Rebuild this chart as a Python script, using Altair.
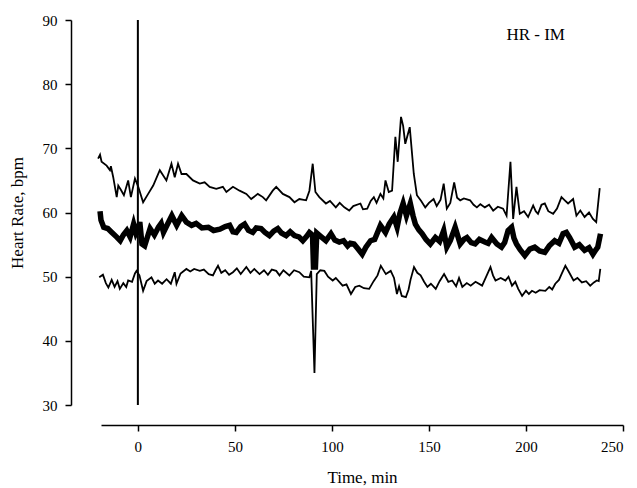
import altair as alt
import pandas as pd

# Upper curve (mean + SD)
up_t = [-20.5, -19.5, -18.7, -16.1, -14.4, -13.9, -12.7, -10.9, -10.1, -8.7, -7.2, -5.0, -3.6, -1.5, 0.2,
        2.7, 5.3, 7.9, 11.3, 14.7, 17.3, 19.0, 20.7, 22.5, 25.0, 28.4, 31.9, 34.4, 37.0, 40.4, 43.8,
        45.6, 49.0, 52.4, 55.9, 58.4, 61.8, 64.4, 66.1, 69.5, 71.3, 74.7, 78.1, 80.7, 83.2, 86.7, 88.4,
        90.1, 91.5, 93.5, 96.9, 99.0, 102.0, 104.0, 106.4, 108.9, 111.0, 114.7, 116.0, 118.2, 120.0,
        121.6, 123.0, 125.0, 126.5, 127.6, 129.3, 131.0, 132.7, 133.9, 135.6, 136.7, 137.8, 140.1,
        142.2, 143.8, 146.0, 148.1, 150.0, 152.4, 154.0, 156.0, 157.6, 159.2, 161.0, 163.0, 164.5,
        166.1, 168.0, 171.2, 173.0, 174.7, 176.5, 178.8, 181.0, 183.1, 185.5, 188.2, 190.0, 192.0,
        193.4, 195.1, 196.8, 199.0, 201.1, 203.7, 205.0, 206.2, 208.0, 209.7, 211.5, 214.0, 216.0,
        218.3, 220.0, 221.7, 224.3, 226.0, 228.0, 230.2, 232.5, 234.5, 236.2, 238.0]
up_v = [68.4, 69.0, 67.9, 67.3, 66.6, 67.2, 65.5, 62.4, 64.2, 63.5, 62.7, 65.0, 62.4, 65.3, 64.0,
        61.6, 62.9, 64.2, 66.6, 65.0, 67.6, 65.5, 67.6, 66.0, 66.0, 65.0, 64.5, 64.7, 64.0, 63.7, 64.0,
        63.2, 64.0, 63.4, 62.9, 62.1, 62.9, 62.4, 61.9, 63.4, 64.0, 62.9, 62.4, 61.6, 62.1, 61.9, 63.4,
        67.6, 63.2, 62.4, 61.4, 61.8, 60.8, 61.5, 60.8, 60.3, 61.0, 61.4, 60.5, 60.6, 61.8,
        62.4, 61.5, 62.9, 62.2, 65.0, 63.2, 63.4, 71.8, 67.9, 74.9, 73.5, 70.7, 73.3,
        66.0, 62.7, 61.8, 60.8, 61.5, 62.1, 61.0, 62.0, 64.5, 60.6, 61.5, 64.7, 62.3,
        61.9, 62.2, 61.9, 61.2, 60.8, 61.3, 60.8, 61.2, 60.3, 60.9, 60.6, 59.5, 67.9,
        59.0, 64.0, 59.8, 60.2, 59.3, 61.1, 60.2, 59.8, 61.2, 61.4, 60.2, 59.8, 60.6,
        62.4, 61.9, 61.4, 62.1, 59.5, 60.3, 59.3, 60.0, 59.0, 58.5, 63.8]

# Middle curve (mean)
mid_t = [-19.5, -19.0, -17.6, -15.5, -13.4, -11.0, -9.1, -7.5, -5.7, -4.0, -2.2, -1.0, 0.3, 1.0, 2.1,
         3.5, 6.3, 8.5, 10.6, 12.0, 13.2, 15.0, 17.5, 20.0, 22.6, 25.0, 27.7, 30.0, 33.0, 36.3, 39.0,
         42.3, 45.0, 47.3, 49.0, 50.7, 53.0, 55.0, 57.0, 59.2, 61.0, 63.5, 65.5, 67.8, 70.0, 72.1,
         74.0, 76.4, 78.5, 80.7, 83.0, 85.0, 87.0, 88.4, 90.0, 90.5, 91.5, 92.2, 94.5, 96.9, 99.5,
         101.5, 103.8, 106.0, 108.1, 109.5, 111.4, 113.5, 115.6, 117.5, 119.9, 122.0, 125.0, 127.6,
         129.5, 131.9, 133.6, 135.0, 136.7, 138.4, 140.4, 141.8, 143.0, 144.8, 146.5, 148.5, 150.7,
         153.3, 155.5, 157.6, 159.2, 161.0, 163.5, 165.0, 166.1, 168.0, 169.6, 171.8, 173.8, 176.0,
         178.8, 180.5, 182.3, 185.0, 187.4, 189.0, 190.8, 192.6, 193.8, 195.1, 197.0, 199.4, 202.0,
         204.5, 207.0, 209.7, 212.0, 214.8, 217.0, 219.1, 220.8, 222.5, 225.1, 227.5, 230.2, 232.5,
         234.5, 236.0, 237.0, 238.4]
mid_v = [60.2, 58.8, 57.7, 57.5, 56.9, 56.2, 55.6, 56.5, 57.2, 56.2, 58.2, 56.8, 57.6, 58.5, 55.1,
         54.8, 57.5, 56.5, 57.7, 58.3, 56.9, 58.0, 59.5, 58.0, 59.5, 58.5, 58.0, 58.3, 57.6, 57.7, 57.2,
         57.4, 57.8, 58.0, 57.0, 56.9, 57.8, 58.2, 57.2, 56.9, 57.6, 57.5, 56.9, 56.4, 57.1, 57.5,
         56.8, 56.4, 57.0, 56.4, 56.2, 55.6, 56.3, 56.9, 56.5, 51.5, 51.5, 56.8, 56.2, 55.6, 56.7,
         55.7, 55.4, 55.6, 54.8, 55.2, 55.1, 54.3, 53.5, 54.6, 55.6, 55.8, 58.0, 56.9,
         58.2, 59.3, 57.7, 59.8, 61.4, 59.5, 61.4, 59.5, 58.2, 57.3, 56.7, 55.8, 55.1,
         56.1, 55.5, 57.2, 54.6, 55.6, 57.7, 56.2, 55.1, 55.8, 56.1, 55.3, 55.1, 55.8,
         55.4, 55.2, 56.1, 55.1, 54.6, 55.3, 57.2, 57.7, 56.0, 55.1, 54.2, 53.3, 54.3,
         54.6, 54.0, 53.8, 54.8, 55.6, 55.2, 56.7, 56.9, 56.1, 54.6, 55.0, 54.1, 54.5,
         53.5, 54.2, 54.6, 56.7]

# Lower curve (mean - SD)
low_t = [-19.9, -18.0, -16.5, -15.2, -13.5, -12.0, -10.5, -9.3, -7.5, -6.0, -5.0, -3.0, -1.5, -0.7, 0.8,
         2.7, 4.5, 7.0, 8.7, 10.4, 12.5, 14.8, 17.0, 19.0, 19.9, 22.0, 25.0, 27.0, 29.0, 31.9, 34.0,
         36.5, 38.7, 40.0, 41.3, 43.0, 45.0, 47.0, 49.0, 51.0, 53.0, 55.9, 58.0, 60.0, 62.7, 65.0,
         67.0, 69.0, 71.3, 73.0, 75.0, 78.1, 80.5, 83.2, 85.5, 88.4, 89.3, 91.0, 92.2, 94.0, 96.1,
         98.0, 100.4, 102.0, 105.5, 107.5, 109.8, 112.0, 114.1, 116.5, 119.2, 121.5, 123.5, 125.2,
         127.8, 130.3, 132.0, 133.5, 134.6, 136.0, 138.1, 139.5, 140.5, 142.3, 144.0, 145.7, 147.5,
         149.2, 151.0, 153.5, 155.5, 157.8, 160.0, 162.0, 164.0, 165.5, 167.2, 169.5, 171.5, 174.0,
         177.4, 179.5, 181.7, 183.0, 184.3, 187.0, 189.4, 191.0, 192.8, 194.5, 196.0, 198.0, 200.0,
         201.5, 203.1, 205.0, 207.0, 210.0, 212.0, 213.5, 215.1, 217.0, 218.5, 220.3, 222.0, 224.5,
         226.5, 228.8, 231.0, 233.1, 235.0, 236.5, 237.5, 238.3]
low_v = [49.9, 50.3, 49.0, 48.3, 49.5, 48.4, 49.3, 48.1, 49.0, 48.4, 49.4, 49.2, 50.5, 50.9, 50.2,
         47.8, 49.3, 49.9, 48.9, 49.4, 48.9, 49.6, 48.9, 50.7, 48.9, 50.5, 51.2, 50.8, 51.2, 50.9, 51.1,
         50.4, 50.2, 51.0, 51.7, 50.6, 51.0, 50.3, 50.7, 51.3, 50.4, 51.5, 50.6, 51.2, 50.4, 51.0,
         50.3, 51.1, 50.9, 50.2, 51.0, 50.2, 51.0, 50.7, 50.0, 49.9, 50.9, 35.0, 50.4, 51.0, 50.9,
         50.0, 49.4, 49.8, 48.6, 48.8, 47.3, 48.4, 48.6, 48.2, 48.1, 49.3, 50.2, 51.7,
         50.4, 50.9, 49.8, 47.3, 48.5, 47.0, 46.8, 48.0, 49.5, 51.5, 50.6, 50.2, 49.2,
         48.4, 48.9, 48.1, 49.3, 50.4, 49.2, 49.4, 48.5, 49.8, 48.4, 49.0, 48.6, 49.2,
         48.6, 50.0, 51.5, 50.2, 49.4, 49.8, 49.4, 50.0, 48.6, 49.2, 48.1, 47.0, 47.8,
         47.3, 47.8, 47.5, 47.9, 47.8, 48.4, 48.0, 48.9, 49.5, 50.5, 51.7, 50.8, 49.4,
         49.8, 49.1, 49.3, 48.6, 49.1, 49.4, 49.3, 51.2]

# Event marker at time 0
evt_t = [0]
evt_lo = [30]
evt_hi = [90]

# Panel label
label_text = ["HR - IM"]
label_t = [205]
label_v = [87.6]

x_ticks = [0, 50, 100, 150, 200, 250]
y_ticks = [30, 40, 50, 60, 70, 80, 90]

df_up = pd.DataFrame({"t": up_t, "v": up_v})
df_mid = pd.DataFrame({"t": mid_t, "v": mid_v})
df_low = pd.DataFrame({"t": low_t, "v": low_v})
df_evt = pd.DataFrame({"t": evt_t, "v": evt_lo, "hi": evt_hi})
df_lab = pd.DataFrame({"text": label_text, "t": label_t, "v": label_v})

xs = alt.Scale(domain=[-19, 250], nice=False, zero=False)
ys = alt.Scale(domain=[30, 90], nice=False, zero=False)

x_axis = alt.Axis(values=x_ticks, offset=20, titlePadding=15)
y_axis = alt.Axis(values=y_ticks, offset=30, titlePadding=16)

X = alt.X("t:Q", scale=xs, axis=x_axis, title="Time, min")
Y = alt.Y("v:Q", scale=ys, axis=y_axis, title="Heart Rate, bpm")

upper = alt.Chart(df_up).mark_line(color="black", strokeWidth=1.8).encode(x=X, y=Y)
middle = alt.Chart(df_mid).mark_line(color="black", strokeWidth=5.5).encode(x=X, y=Y)
lower = alt.Chart(df_low).mark_line(color="black", strokeWidth=1.8).encode(x=X, y=Y)
event = alt.Chart(df_evt).mark_rule(color="black", strokeWidth=2).encode(x=X, y=Y, y2="hi:Q")
label = alt.Chart(df_lab).mark_text(
    font="Liberation Serif", fontSize=17, color="black", align="center", baseline="middle"
).encode(x=X, y=Y, text="text:N")

chart = alt.layer(upper, middle, lower, event, label).properties(
    width=522,
    height=385,
    padding={"left": 101, "top": 20, "right": 14, "bottom": 83},
    autosize=alt.AutoSizeParams(type="none"),
    background="white",
).configure_view(stroke=None).configure_axis(
    grid=False,
    domainColor="black",
    domainWidth=1.5,
    tickColor="black",
    tickWidth=1.5,
    tickSize=6,
    labelFont="Liberation Serif",
    labelFontSize=15,
    labelColor="black",
    labelPadding=8,
    titleFont="Liberation Serif",
    titleFontSize=17,
    titleFontWeight="normal",
    titleColor="black",
)

chart.save("out.html", embed_options={"renderer": "svg", "actions": False})
